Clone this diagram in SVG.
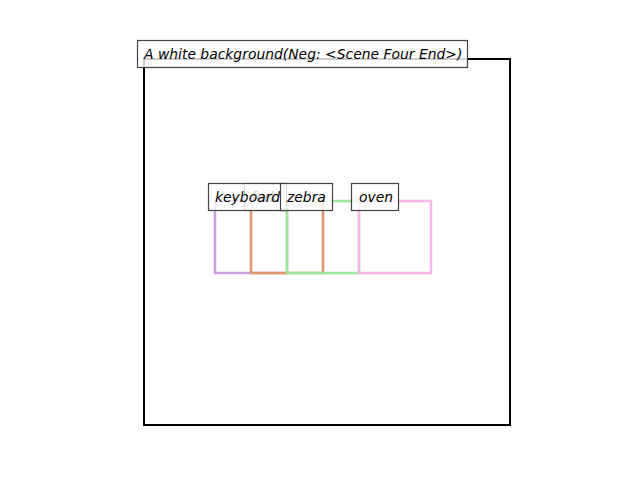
<svg xmlns="http://www.w3.org/2000/svg" width="640" height="480" viewBox="0 0 640 480">
<style>
.lbl{fill:#fff;fill-opacity:0.8;stroke:#444;stroke-width:1.2}
.t{font-family:"DejaVu Sans",sans-serif;font-style:oblique;font-size:13.9px;fill:#000}
.bx{fill:none;stroke-width:2.5}
</style>
<rect width="640" height="480" fill="#fff"/>
<g id="frame"><rect x="144" y="59" width="366" height="366" fill="none" stroke="#000" stroke-width="2"/></g>
<g id="boxes">
<rect id="box-keyboard" class="bx" x="215" y="201" width="72" height="72" stroke="#cc9ddc"/>
<rect id="box-fork" class="bx" x="251" y="201" width="72" height="72" stroke="#e0956f"/>
<rect id="box-zebra" class="bx" x="287" y="201" width="72" height="72" stroke="#9ee69c"/>
<rect id="box-oven" class="bx" x="359" y="201" width="72" height="72" stroke="#f5b6e8"/>
</g>
<g id="title"><rect class="lbl" x="137.5" y="40.5" width="330" height="27"/><text class="t" x="144" y="58.5">A white background(Neg: &lt;Scene Four End&gt;)</text></g>
<g id="label-fork"><rect class="lbl" x="244.5" y="183.5" width="40" height="27"/><text class="t" x="251" y="201.5">fork</text></g>
<g id="label-keyboard"><rect class="lbl" x="208.5" y="183.5" width="78" height="27"/><text class="t" x="215" y="201.5">keyboard</text></g>
<g id="label-zebra"><rect class="lbl" x="280.5" y="183.5" width="52" height="27"/><text class="t" x="287" y="201.5">zebra</text></g>
<g id="label-oven"><rect class="lbl" x="351.5" y="183.5" width="47" height="27"/><text class="t" x="359" y="201.5">oven</text></g>
</svg>
